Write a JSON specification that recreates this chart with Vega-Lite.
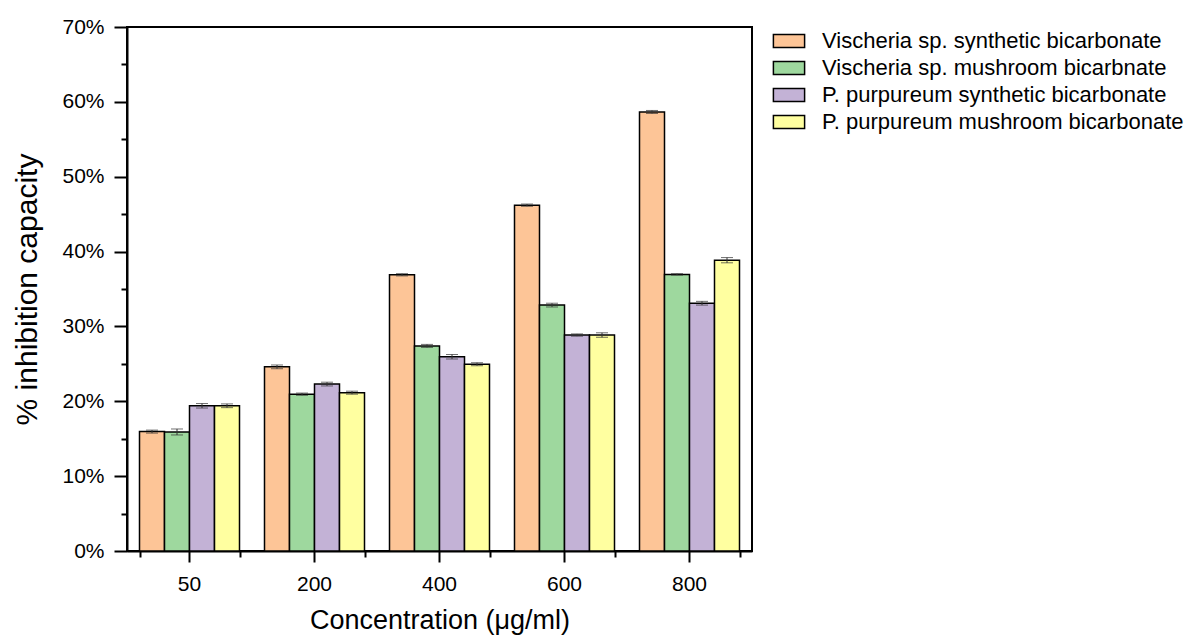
{
  "$schema": "https://vega.github.io/schema/vega-lite/v6.json",
  "width": 625,
  "height": 524,
  "autosize": "none",
  "padding": {"left": 127, "top": 27, "right": 436, "bottom": 86},
  "background": "white",
  "config": {
    "font": "Liberation Sans",
    "view": {"stroke": "black", "strokeWidth": 2},
    "axis": {"domainColor": "black", "domainWidth": 2, "tickColor": "black", "tickWidth": 2, "labelColor": "black", "titleColor": "black", "grid": false, "labelFont": "Liberation Sans", "titleFont": "Liberation Sans", "titleFontWeight": "normal"},
    "legend": {"labelFont": "Liberation Sans"}
  },
  "data": {
    "values": [
      {"conc": "50", "series": "Vischeria sp. synthetic bicarbonate", "value": 15.95, "err": 0.2},
      {"conc": "50", "series": "Vischeria sp. mushroom bicarbnate", "value": 15.9, "err": 0.4},
      {"conc": "50", "series": "P. purpureum synthetic bicarbonate", "value": 19.4, "err": 0.3},
      {"conc": "50", "series": "P. purpureum mushroom bicarbonate", "value": 19.4, "err": 0.25},
      {"conc": "200", "series": "Vischeria sp. synthetic bicarbonate", "value": 24.6, "err": 0.25},
      {"conc": "200", "series": "Vischeria sp. mushroom bicarbnate", "value": 20.95, "err": 0.15},
      {"conc": "200", "series": "P. purpureum synthetic bicarbonate", "value": 22.3, "err": 0.25},
      {"conc": "200", "series": "P. purpureum mushroom bicarbonate", "value": 21.15, "err": 0.2},
      {"conc": "400", "series": "Vischeria sp. synthetic bicarbonate", "value": 36.9, "err": 0.15},
      {"conc": "400", "series": "Vischeria sp. mushroom bicarbnate", "value": 27.4, "err": 0.2},
      {"conc": "400", "series": "P. purpureum synthetic bicarbonate", "value": 25.95, "err": 0.3},
      {"conc": "400", "series": "P. purpureum mushroom bicarbonate", "value": 24.95, "err": 0.2},
      {"conc": "600", "series": "Vischeria sp. synthetic bicarbonate", "value": 46.2, "err": 0.15},
      {"conc": "600", "series": "Vischeria sp. mushroom bicarbnate", "value": 32.85, "err": 0.25},
      {"conc": "600", "series": "P. purpureum synthetic bicarbonate", "value": 28.85, "err": 0.15},
      {"conc": "600", "series": "P. purpureum mushroom bicarbonate", "value": 28.85, "err": 0.3},
      {"conc": "800", "series": "Vischeria sp. synthetic bicarbonate", "value": 58.65, "err": 0.2},
      {"conc": "800", "series": "Vischeria sp. mushroom bicarbnate", "value": 36.95, "err": 0.1},
      {"conc": "800", "series": "P. purpureum synthetic bicarbonate", "value": 33.1, "err": 0.25},
      {"conc": "800", "series": "P. purpureum mushroom bicarbonate", "value": 38.85, "err": 0.35}
    ]
  },
  "resolve": {"axis": {"x": "independent", "y": "independent"}},
  "layer": [
    {
      "mark": {"type": "bar", "stroke": "black", "strokeWidth": 1.5},
      "encoding": {
        "x": {"field": "conc", "type": "nominal", "sort": ["50", "200", "400", "600", "800"],
          "scale": {"paddingInner": 0.2, "paddingOuter": 0.1},
          "axis": {"orient": "bottom", "title": "Concentration (μg/ml)", "labelAngle": 0, "labelFontSize": 21, "titleFontSize": 27, "tickSize": 11, "labelPadding": 11, "titlePadding": 13}},
        "xOffset": {"field": "series", "type": "nominal", "sort": ["Vischeria sp. synthetic bicarbonate", "Vischeria sp. mushroom bicarbnate", "P. purpureum synthetic bicarbonate", "P. purpureum mushroom bicarbonate"], "scale": {"paddingInner": 0, "paddingOuter": 0}},
        "y": {"field": "value", "type": "quantitative", "scale": {"domain": [0, 70], "nice": false},
          "axis": {"orient": "left", "title": "% inhibition capacity", "values": [0, 10, 20, 30, 40, 50, 60, 70], "labelExpr": "datum.value + '%'", "labelFontSize": 21, "titleFontSize": 30, "tickSize": 13, "labelPadding": 10, "titlePadding": 19}},
        "color": {"field": "series", "type": "nominal",
          "scale": {"domain": ["Vischeria sp. synthetic bicarbonate", "Vischeria sp. mushroom bicarbnate", "P. purpureum synthetic bicarbonate", "P. purpureum mushroom bicarbonate"], "range": ["#FDC597", "#9ED89E", "#C3B2D6", "#FFFFA0"]},
          "legend": {"title": null, "orient": "none", "legendX": 648, "legendY": 0, "labelFontSize": 22, "labelLimit": 0, "labelColor": "black", "symbolType": "M-1.2,-0.5H1.2V0.5H-1.2Z", "symbolSize": 676, "symbolStrokeColor": "black", "symbolStrokeWidth": 1.5, "symbolOpacity": 1, "labelOffset": 19, "rowPadding": 2}}
      }
    },
    {
      "mark": {"type": "errorbar", "ticks": {"size": 12, "color": "#333333", "strokeWidth": 1}, "rule": {"color": "#333333", "strokeWidth": 1}},
      "encoding": {
        "x": {"field": "conc", "type": "nominal", "sort": ["50", "200", "400", "600", "800"], "axis": null},
        "xOffset": {"field": "series", "type": "nominal", "sort": ["Vischeria sp. synthetic bicarbonate", "Vischeria sp. mushroom bicarbnate", "P. purpureum synthetic bicarbonate", "P. purpureum mushroom bicarbonate"]},
        "y": {"field": "value", "type": "quantitative", "axis": null},
        "yError": {"field": "err"}
      }
    },
    {
      "mark": {"type": "tick", "opacity": 0},
      "encoding": {
        "x": {"field": "conc", "type": "nominal", "sort": ["50", "200", "400", "600", "800"],
          "axis": {"orient": "bottom", "title": null, "labels": false, "domain": false, "tickSize": 6, "tickBand": "extent"}},
        "y": {"field": "value", "type": "quantitative",
          "axis": {"orient": "left", "title": null, "labels": false, "domain": false, "tickSize": 6, "values": [5, 15, 25, 35, 45, 55, 65]}}
      }
    }
  ]
}
